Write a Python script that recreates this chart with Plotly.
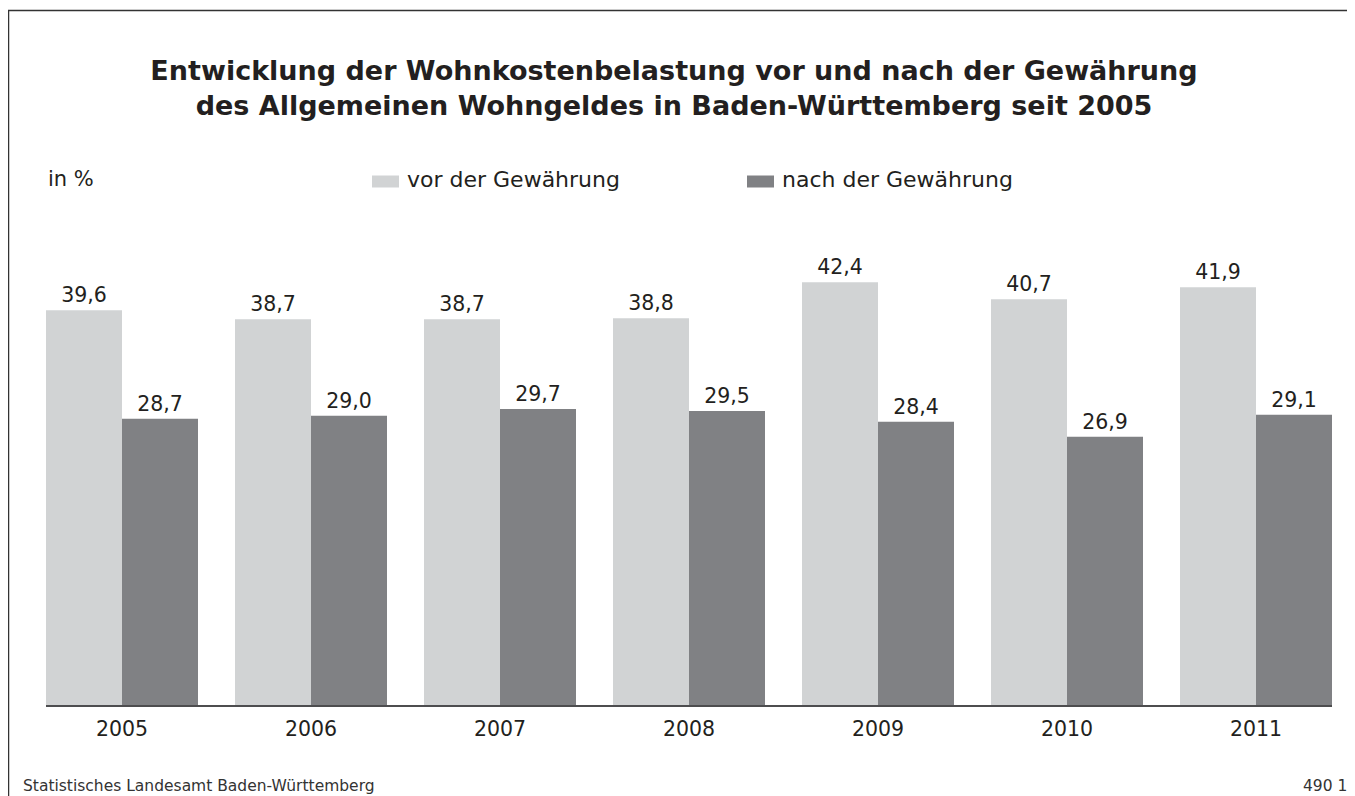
import plotly.graph_objects as go

years = ["2005", "2006", "2007", "2008", "2009", "2010", "2011"]
vor = [39.6, 38.7, 38.7, 38.8, 42.4, 40.7, 41.9]
nach = [28.7, 29.0, 29.7, 29.5, 28.4, 26.9, 29.1]
series_names = ["vor der Gewährung", "nach der Gewährung"]
colors = ["#d1d3d4", "#808184"]

# page offset (browser body margin)
OFF = 8
W, H = 1355, 796
# target page pixel positions of plot area
PLOT_LEFT, PLOT_RIGHT, PLOT_TOP, PLOT_BASE = 46, 1332, 255, 705
L = PLOT_LEFT - OFF
R = W - (PLOT_RIGHT - OFF)
T = PLOT_TOP - OFF
B = H - (PLOT_BASE - OFF)
PW, PH = W - L - R, H - T - B
YMAX = (PLOT_BASE - PLOT_TOP) / 9.97
FONT = "DejaVu Sans, Verdana, sans-serif"
TXT = "#231f20"


def px_x(p):
    return (p - OFF - L) / PW


def px_y(p):
    return (H - B - (p - OFF)) / PH


def fmt(v):
    return f"{v:.1f}".replace(".", ",")


fig = go.Figure()
for name, vals, col in zip(series_names, [vor, nach], colors):
    fig.add_trace(go.Bar(
        x=years, y=vals, name=name, marker=dict(color=col, line=dict(width=0)),
        text=[fmt(v) for v in vals], textposition="outside",
        textfont=dict(size=20.5, color=TXT, family=FONT), cliponaxis=False,
        showlegend=False,
    ))

half = 152 / 189 / 2
fig.update_layout(
    width=W, height=H,
    margin=dict(l=L, r=R, t=T, b=B),
    paper_bgcolor="white", plot_bgcolor="white",
    barmode="group", bargap=37 / 189, bargroupgap=0,
    font=dict(family=FONT, color=TXT),
    title=dict(
        text="<b>Entwicklung der Wohnkostenbelastung vor und nach der Gewährung<br>des Allgemeinen Wohngeldes in Baden-Württemberg seit 2005</b>",
        x=(674 - OFF) / W, xanchor="center", y=1 - (80 - OFF) / H, yanchor="middle",
        font=dict(size=27, color=TXT, family=FONT),
    ),
    xaxis=dict(range=[-half, 6 + half], showline=True, linecolor="#4d4d4f", linewidth=1.5,
               ticks="outside", ticklen=5, tickcolor="rgba(0,0,0,0)",
               tickfont=dict(size=20.5, color=TXT, family=FONT), showgrid=False, fixedrange=True),
    yaxis=dict(range=[0, YMAX], visible=False, showgrid=False, fixedrange=True),
    showlegend=False,
)

shapes = [dict(type="rect", xref="paper", yref="paper",
               x0=px_x(8.5), x1=px_x(1420), y0=px_y(880), y1=px_y(10.5),
               line=dict(color="#333333", width=1.5), fillcolor="rgba(0,0,0,0)", layer="below")]
annotations = [
    dict(text="in %", x=px_x(46), y=px_y(179), xref="paper", yref="paper",
         xanchor="left", yanchor="middle", showarrow=False, font=dict(size=21, color=TXT)),
    dict(text="Statistisches Landesamt Baden-Württemberg", x=px_x(21), y=px_y(786), xref="paper",
         yref="paper", xanchor="left", yanchor="middle", showarrow=False,
         font=dict(size=15.5, color="#333333")),
    dict(text="490 12", x=px_x(1301), y=px_y(786), xref="paper",
         yref="paper", xanchor="left", yanchor="middle", showarrow=False,
         font=dict(size=15.5, color="#333333")),
]
for i, (name, col) in enumerate(zip(series_names, colors)):
    x0 = [372, 747][i]
    shapes.append(dict(type="rect", xref="paper", yref="paper",
                       x0=px_x(x0), x1=px_x(x0 + 27), y0=px_y(187.5), y1=px_y(175.5),
                       fillcolor=col, line=dict(width=0)))
    annotations.append(dict(text=name, x=px_x(x0 + 33), y=px_y(179), xref="paper", yref="paper",
                            xanchor="left", yanchor="middle", showarrow=False,
                            font=dict(size=22, color=TXT)))

fig.update_layout(shapes=shapes, annotations=annotations)
fig.write_html("out.html")
